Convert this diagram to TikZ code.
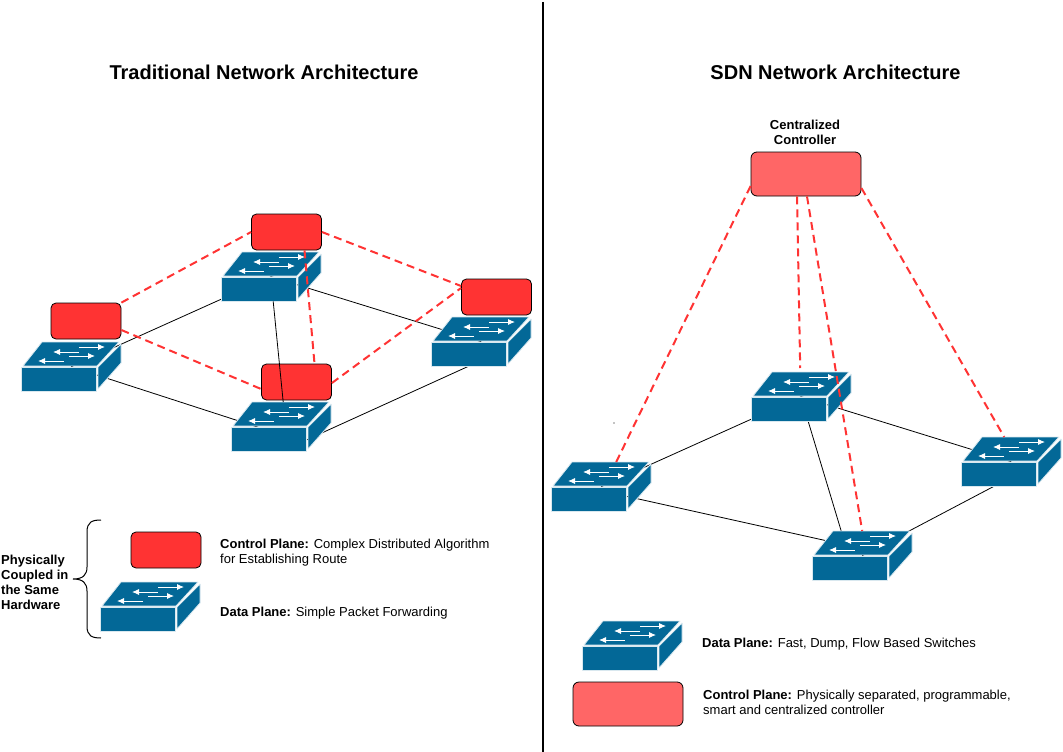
\documentclass[tikz,border=0pt]{standalone}
\usepackage{fontspec}
\setmainfont{Liberation Sans}
\usetikzlibrary{arrows.meta, positioning}
\definecolor{cSwitch}{HTML}{036897}
\definecolor{cLocal}{HTML}{FF3333}
\definecolor{cCentral}{HTML}{FF6666}
\pgfdeclarelayer{links}
\pgfsetlayers{links,main}
\tikzset{
  switch/.pic = {
    \node[minimum width=100pt, minimum height=49pt, inner sep=0pt, anchor=north west] (-box) at (0,0) {};
    \draw[face] (0,25) rectangle (75,49);
    \draw[face] (2,24) -- (21,0) -- (98,0) -- (76,24) -- cycle;
    \draw[face] (77,47) -- (100,21) -- (100,2) -- (77,25) -- cycle;
    \draw[flow] (58,5) -- (84,5);
    \draw[flow] (58,10) -- (32,10);
    \draw[flow] (48,14) -- (74,14);
    \draw[flow] (43,19) -- (17,19);
  }
}
\begin{document}
\begin{tikzpicture}[x=1pt, y=-1pt,
    face/.style  = {draw=white!85!cSwitch, fill=cSwitch, line width=0.8pt, line join=round},
    flow/.style  = {draw=white, line width=0.9pt, -{Latex[length=7pt, width=6pt]}},
    local/.style = {draw=black, fill=cLocal, rounded corners=5pt, line width=0.8pt, minimum width=70pt, minimum height=36pt, inner sep=0pt},
    central/.style = {draw=black, fill=cCentral, rounded corners=6pt, line width=0.8pt, minimum width=110pt, minimum height=44pt, inner sep=0pt},
    wire/.style  = {draw=black, line width=0.8pt},
    ctrl/.style  = {draw=cLocal, line width=2pt, dash pattern=on 8pt off 5pt},
    title/.style = {font=\fontsize{20}{24}\selectfont\bfseries},
    note/.style  = {font=\fontsize{13}{15}\selectfont, align=left, inner sep=0pt, anchor=west},
    head/.style  = {font=\fontsize{13}{15}\selectfont\bfseries, inner sep=0pt}]
  \useasboundingbox (0,0) rectangle (1063,752);

  \coordinate (divtop) at (543,2);
  \coordinate (divbot) at (543,752);
  \draw[line width=2pt] (divtop) -- (divbot);

  \node[title] (t1) at (264,72) {Traditional Network Architecture};
  \node[title] (t2) at (835.5,72) {SDN Network Architecture};

  \pic (swa) at (21,342) {switch};
  \pic (swb) at (221,252) {switch};
  \pic (swc) at (431,317) {switch};
  \pic (swd) at (231,402) {switch};

  \node[local] (ra) at (86,321) {};
  \node[local] (rb) at (286.5,232) {};
  \node[local] (rc) at (496.5,297) {};
  \node[local] (rd) at (296.5,382) {};

  \begin{pgfonlayer}{links}
    \draw[wire] (swa-box.center) -- (swb-box.center);
    \draw[wire] (swa-box.center) -- ([yshift=-8pt]swd-box.center);
    \draw[wire] (swb-box.center) -- (swc-box.center);
    \draw[wire] (swd-box.south) -- ([xshift=-13pt]swc-box.south);
  \end{pgfonlayer}
  \draw[ctrl] (ra.north east) -- (rb.west);
  \draw[ctrl] (rb.east) -- ([yshift=11pt]rc.west);
  \draw[wire] ([xshift=2pt]swb-box.south) -- ([xshift=2pt]swd-box.north);
  \draw[ctrl] ([xshift=18pt]rb.south) -- ([xshift=18pt]rd.north);
  \draw[ctrl] ([yshift=-9pt]ra.east) -- ([yshift=-7pt]rd.west);
  \draw[ctrl] ([yshift=-1pt]rd.east) -- ([yshift=9pt]rc.west);

  \draw[line width=1pt] (101,520) .. controls (92,520) and (87,522) .. (87,532) -- (87,567)
    .. controls (87,575) and (83,579) .. (73,579) .. controls (83,579) and (87,583) .. (87,591)
    -- (87,626) .. controls (87,636) and (92,638) .. (101,638);
  \node[head, align=left, anchor=west] (phys) at (1,582.5) {Physically\\Coupled in\\the Same\\Hardware};
  \node[local] (lega) at (166,550) {};
  \pic (legb) at (100,582) {switch};
  \node[note] (txta) at (220,553) {\textbf{Control Plane:} Complex Distributed Algorithm\\for Establishing Route};
  \node[note] (txtb) at (220,613) {\textbf{Data Plane:} Simple Packet Forwarding};

  \node[head, align=center] (cap) at (805,132) {Centralized\\Controller};
  \node[central] (ctl) at (806,174) {};

  \pic (swe) at (551,462) {switch};
  \pic (swf) at (751,372) {switch};
  \pic (swg) at (961,437) {switch};
  \pic (swh) at (812,531) {switch};

  \begin{pgfonlayer}{links}
    \draw[wire] (swe-box.center) -- (swf-box.center);
    \draw[wire] (swf-box.center) -- (swg-box.center);
    \draw[wire] ([xshift=7pt]swf-box.south) -- ([xshift=-21pt]swh-box.north);
    \draw[wire] ([yshift=-4pt]swe-box.center) -- ([yshift=7pt]swh-box.center);
    \draw[wire] (swh-box.center) -- ([yshift=-15.5pt]swg-box.center);
  \end{pgfonlayer}
  \draw[ctrl] ([yshift=-12pt]ctl.west) -- ([xshift=15pt]swe-box.north);
  \draw[ctrl] ([xshift=-9pt]ctl.south) -- ([xshift=-1pt,yshift=4pt]swf-box.north);
  \draw[ctrl] ([xshift=1pt]ctl.south) -- (swh-box.north);
  \draw[ctrl] ([yshift=-14pt]ctl.east) -- ([xshift=-7pt]swg-box.north);
  \fill (614,423) circle (0.7);

  \pic (legc) at (582,621) {switch};
  \node[central] (legd) at (628,704) {};
  \node[note] (txtc) at (702,644) {\textbf{Data Plane:} Fast, Dump, Flow Based Switches};
  \node[note] (txtd) at (703,702) {\textbf{Control Plane:} Physically separated, programmable,\\smart and centralized controller};
\end{tikzpicture}
\end{document}
